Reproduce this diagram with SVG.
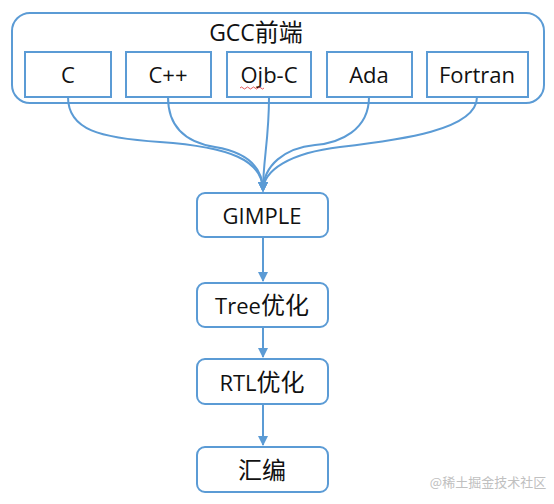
<svg xmlns="http://www.w3.org/2000/svg" width="554" height="504" viewBox="0 0 554 504">
<style>
.box{fill:#fff;stroke:#5b9bd5;stroke-width:2}
.t{font-family:"Open Sans","Noto Sans CJK SC",sans-serif;font-size:22px;fill:#111;text-anchor:middle}
.k{font-size:24px}
.c{fill:none;stroke:#5b9bd5;stroke-width:2}
</style>
<defs>
<marker id="ah" viewBox="0 0 10 10" refX="9" refY="5" markerWidth="5" markerHeight="5" orient="auto" markerUnits="strokeWidth">
<path d="M0,0 L10,5 L0,10 z" fill="#5b9bd5"/>
</marker>
</defs>
<rect width="554" height="504" fill="#fff"/>
<g id="frontend">
<rect class="box" x="12" y="13" width="532" height="90" rx="18"/>
<text class="t" x="256" y="41" style="font-size:23px">GCC<tspan class="k">前端</tspan></text>
</g>
<g id="c"><rect class="box" x="25" y="52" width="86" height="45"/><text class="t" x="68" y="83">C</text></g>
<g id="cpp"><rect class="box" x="126" y="52" width="85" height="45"/><text class="t" x="168" y="83">C++</text></g>
<g id="objc"><rect class="box" x="227" y="52" width="84" height="45"/><text class="t" x="269" y="83">Ojb-C</text>
<path d="M240,88 q1.5,-2 3,0 t3,0 t3,0 t3,0 t3,0 t3,0 t3,0 t3,0" fill="none" stroke="#e03030" stroke-width="0.8"/></g>
<g id="ada"><rect class="box" x="327" y="52" width="85" height="45"/><text class="t" x="369" y="83">Ada</text></g>
<g id="fortran"><rect class="box" x="427" y="52" width="101" height="45"/><text class="t" x="477" y="83">Fortran</text></g>
<g id="gimple"><rect class="box" x="197" y="193" width="131" height="44" rx="8"/><text class="t" x="262" y="224">GIMPLE</text></g>
<g id="tree"><rect class="box" x="197" y="283" width="131" height="44" rx="8"/><text class="t" x="262" y="314">Tree<tspan class="k">优化</tspan></text></g>
<g id="rtl"><rect class="box" x="197" y="359" width="131" height="45" rx="8"/><text class="t" x="262" y="391">RTL<tspan class="k">优化</tspan></text></g>
<g id="asm"><rect class="box" x="197" y="447" width="131" height="45" rx="8"/><text class="t k" x="262" y="479">汇编</text></g>
<g id="connectors">
<path class="c" d="M68,97 C68,130 100,138 160,142 C230,147 263,160 263,191" marker-end="url(#ah)"/>
<path class="c" d="M168,97 C168,130 190,143 215,147 C245,152 263,165 263,191" marker-end="url(#ah)"/>
<path class="c" d="M269,97 C269,140 263,160 263,191" marker-end="url(#ah)"/>
<path class="c" d="M369,97 C369,130 340,143 315,145 C285,148 263,165 263,191" marker-end="url(#ah)"/>
<path class="c" d="M477,97 C477,130 400,140 340,147 C290,153 263,170 263,191" marker-end="url(#ah)"/>
<path class="c" d="M263,237 L263,281" marker-end="url(#ah)"/>
<path class="c" d="M263,327 L263,357" marker-end="url(#ah)"/>
<path class="c" d="M263,404 L263,445" marker-end="url(#ah)"/>
</g>
<text x="488" y="487" style="font-family:'Noto Sans CJK SC',sans-serif;font-size:13px;fill:#c0c0c0;text-anchor:middle">@稀土掘金技术社区</text>
</svg>
